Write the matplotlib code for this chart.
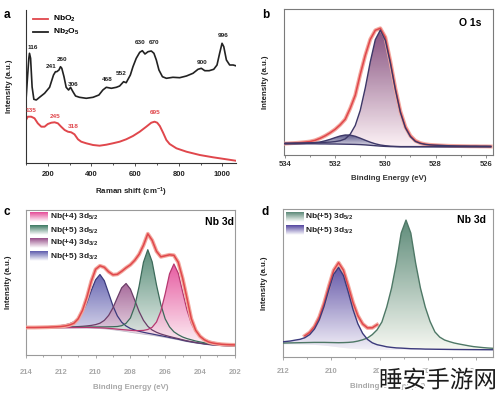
import numpy as np
import matplotlib
matplotlib.use("Agg")
import matplotlib.pyplot as plt
import matplotlib.patheffects as pe
from matplotlib.colors import LinearSegmentedColormap

plt.rcParams['font.family'] = ['Liberation Sans', 'DejaVu Sans']
plt.rcParams['font.weight'] = 'bold'
plt.rcParams['mathtext.default'] = 'regular'

W, H = 499, 397

# ---------------- a: Raman spectra ----------------
nb2o5_shift = [100, 107, 113, 116, 121, 128, 136, 147, 162, 185, 208, 226, 235, 241, 251, 258, 264, 274, 284, 295,
               304, 315, 327, 345, 376, 407, 434, 452, 468, 491, 514, 529, 547, 559, 578, 590, 605, 621, 633, 645,
               659, 674, 686, 697, 709, 725, 743, 773, 804, 835, 865, 888, 903, 919, 939, 960, 975, 987, 998, 1006,
               1018, 1033, 1049, 1060]
nb2o5_int = [63, 86, 104.7, 109.7, 104.7, 76, 63.7, 63, 65.7, 69.7, 75.7, 88, 91.3, 91.3, 93, 96.3, 94.7, 86.3, 75.7, 73,
             75.7, 71.3, 67, 65.7, 64.7, 65.7, 68, 73, 75.7, 74.7, 75.7, 77, 81.3, 80.3, 88, 96.3, 104.7, 110.7, 112.3, 109,
             111.3, 112, 109.7, 103, 93, 86.3, 84.7, 85.7, 85.3, 87, 89.7, 93.7, 94.7, 92.3, 92.3, 93.7, 98, 109.7, 119.7, 116.3,
             103, 98, 98, 97.3]
nbo2_shift = [100, 108, 124, 139, 154, 170, 185, 200, 216, 231, 246, 261, 277, 292, 307, 322, 338, 353, 376, 407,
              437, 468, 498, 529, 559, 590, 621, 651, 674, 689, 701, 713, 728, 743, 758, 789, 835, 896, 957, 1018, 1060]
nbo2_int = [43, 46.3, 46.3, 44.7, 39.7, 36.3, 36.3, 39, 40.3, 40.7, 39.7, 36.3, 33, 31.3, 30.7, 28.7, 23.7, 21.3, 19.7, 18,
            17.3, 18.3, 19.7, 21.3, 23.7, 27, 31.3, 36.3, 40.3, 41.3, 40.3, 37, 30.3, 23, 19, 14.7, 11.3, 8, 5.7, 3.7, 2.3]
nb2o5_peaks = ['116', '241', '260', '306', '468', '552', '630', '670', '900', '996']
nbo2_peaks = ['135', '245', '318', '695']

# ---------------- b: O 1s ----------------
o1s_bg = [11.5] * 7 + [11.4, 11.4, 11.3, 11.3, 11.2, 11.1, 11.0, 10.9, 10.7, 10.4, 10.0, 9.6, 9.2, 8.9, 8.7, 8.6] + [8.5] * 19
o1s_lattice = [0.7, 0.7, 0.8, 0.8, 0.9, 1.0, 1.2, 1.4, 1.6, 1.9, 2.4, 3.4, 5.3, 10.1, 18.9, 34.3, 57.0, 83.5, 106.0, 116.0,
               106.0, 83.5, 57.0, 34.3, 18.9, 10.1, 5.3, 3.4, 2.4, 1.9, 1.6, 1.4, 1.2, 1.0, 0.9, 0.8, 0.8, 0.7, 0.7, 0.6, 0.6, 0.5]
o1s_defect = [0.2, 0.2, 0.2, 0.3, 0.4, 0.7, 1.1, 1.9, 3.1, 4.65, 6.4, 8.1, 9.2, 9.2, 8.1, 6.4, 4.65, 3.1, 1.9, 1.1, 0.7, 0.4, 0.3] + [0.2] * 19
o1s_raw = [11.7, 12.0, 12.3, 12.7, 13.2, 13.8, 15.0, 17.0, 19.5, 22.5, 26.0, 30.5, 36.0, 47.0, 60.0, 81.0, 100.0, 116.0, 125.0, 127.0,
           118.0, 94.0, 67.0, 44.0, 28.5, 19.5, 14.5, 12.2, 11.0, 10.4, 10.1, 9.8, 9.6, 9.4, 9.3, 9.2, 9.1, 9.0, 9.0, 8.9, 8.9, 8.8]

# ---------------- c: Nb 3d (NbO2) ----------------
c_bg = [27.3] * 15 + [27.2, 27.0, 26.8, 26.5, 26.1, 25.6, 25.0, 24.4, 23.8, 23.1, 22.4, 21.8, 21.2, 20.6, 20.0, 19.3, 18.6,
                      17.9, 17.1, 16.3, 15.5, 14.5, 13.6, 12.9, 12.2, 11.6, 11.0, 10.5, 10.1, 9.8, 9.5, 9.3, 9.1, 9.0]
c_nb4_52 = [0.23, 0.24, 0.25, 0.26, 0.27, 0.28, 0.3, 0.31, 0.33, 0.35, 0.37, 0.4, 0.42, 0.46, 0.5, 0.56, 0.62, 0.7, 0.75, 0.86,
            1.0, 1.15, 1.35, 1.6, 1.9, 2.3, 2.9, 3.7, 5.2, 8.0, 14.0, 25.5, 43.6, 64.4, 75.0, 66.6, 49.0, 31.8, 19.1, 11.4,
            7.2, 5.0, 3.7, 3.0, 2.5, 2.0, 1.7, 1.5, 1.3]
c_nb5_52 = [0.3, 0.31, 0.33, 0.35, 0.37, 0.39, 0.41, 0.44, 0.5, 0.56, 0.62, 0.72, 0.82, 0.92, 1.0, 1.1, 1.3, 1.6, 1.9, 2.4,
            3.0, 3.8, 5.2, 8.2, 14.2, 26.6, 47.2, 71.8, 85.0, 73.5, 51.0, 32.0, 18.5, 11.3, 7.2, 5.1, 3.8, 3.1, 2.6, 2.1,
            1.8, 1.5, 1.3, 1.1, 1.0, 0.9, 0.8, 0.7, 0.65]
c_nb4_32 = [0.37, 0.4, 0.43, 0.46, 0.5, 0.56, 0.6, 0.7, 0.8, 0.9, 1.0, 1.2, 1.4, 1.7, 2.1, 2.7, 3.7, 5.3, 8.4, 13.8,
            22.0, 32.7, 43.1, 48.0, 43.1, 32.7, 22.0, 13.8, 8.4, 5.3, 3.7, 2.7, 2.1, 1.7, 1.4, 1.2, 1.0, 0.9, 0.8, 0.7,
            0.6, 0.56, 0.5, 0.46, 0.43, 0.4, 0.37, 0.35, 0.33]
c_nb5_32 = [0.7, 0.75, 0.85, 1.0, 1.15, 1.35, 1.6, 1.95, 2.4, 3.1, 4.2, 6.2, 9.8, 16.0, 25.5, 37.5, 48.5, 54.0, 48.1, 35.9,
            23.7, 14.4, 8.7, 5.5, 3.7, 2.9, 2.2, 1.8, 1.5, 1.3, 1.1, 0.97, 0.85, 0.72, 0.65, 0.6, 0.54, 0.5, 0.44, 0.4,
            0.38, 0.36, 0.34, 0.32, 0.3, 0.29, 0.27, 0.26, 0.25]
c_raw = [27.8, 27.8, 27.8, 27.9, 28.0, 28.1, 28.3, 28.5, 28.8, 29.3, 30.3, 32.0, 36.5, 45.0, 58.0, 74.0, 86.0, 89.5, 88.0, 83.5,
         80.5, 81.0, 84.0, 87.5, 90.5, 95.0, 101.0, 110.0, 121.5, 115.0, 104.0, 98.5, 99.5, 100.5, 100.0, 93.0, 77.0, 57.0, 36.5, 25.0,
         19.0, 15.5, 13.3, 12.2, 11.5, 11.0, 10.7, 10.5, 10.4]

# ---------------- d: Nb 3d (Nb2O5) ----------------
d_bg = [12.5, 12.5, 12.5, 12.4, 12.3, 12.2, 12.0, 11.8, 11.5, 11.1, 10.6, 10.0, 9.4, 8.8, 8.3, 7.9, 7.6, 7.4, 7.2, 7.1,
        6.9, 6.8, 6.7] + [6.6] * 22
d_nb5_52 = [1.1, 1.2, 1.3, 1.5, 1.7, 1.9, 2.2, 2.5, 2.8, 3.2, 3.6, 4.1, 4.6, 5.3, 6.0, 6.8, 8.0, 9.5, 11.5, 15.0,
            20.0, 28.0, 43.0, 62.0, 87.0, 117.0, 130.0, 117.0, 87.0, 62.0, 43.0, 28.6, 18.2, 13.0, 10.1, 8.5, 7.1, 6.1, 5.2, 4.3,
            3.5, 3.0, 2.5, 2.1, 1.8]
d_nb5_32 = [2.2, 2.7, 3.2, 4.2, 5.1, 6.8, 10.1, 15.9, 25.4, 39.3, 56.5, 72.4, 80.0, 72.4, 56.5, 39.3, 25.4, 15.9, 10.1, 6.8,
            5.1, 4.2, 3.2, 2.7, 2.2, 2.0, 1.7, 1.4, 1.3, 1.2, 1.0, 0.95, 0.86, 0.8, 0.74, 0.67, 0.6, 0.56, 0.53, 0.49,
            0.46, 0.43, 0.4, 0.38, 0.36]

o1s_be = 534.0 - 0.2 * np.arange(len(o1s_bg))
c_be = 214.0 - 0.25 * np.arange(len(c_bg))
d_be = 212.1 - 0.2 * np.arange(len(d_bg))

RED = '#e0474c'
HALO = '#f3a89e'
GREY = '#a8a8a8'


def grad_fill(ax, x, lo, hi, c_top, c_bot, alpha=0.9, z=2):
    x, lo, hi = np.asarray(x), np.asarray(lo), np.asarray(hi)
    poly = ax.fill_between(x, lo, hi, facecolor='none', edgecolor='none')
    cmap = LinearSegmentedColormap.from_list('g', [c_bot, c_top])
    grad = np.linspace(0, 1, 256).reshape(-1, 1)
    im = ax.imshow(grad, cmap=cmap, aspect='auto', origin='lower', alpha=alpha, zorder=z,
                   extent=[x.min(), x.max(), lo.min(), hi.max()])
    im.set_clip_path(poly.get_paths()[0], transform=ax.transData)


def grad_patch(fig, px, py, c_top, c_bot, w=18, h=10):
    pa = fig.add_axes([px / W, 1 - (py + h / 2) / H, w / W, h / H])
    cmap = LinearSegmentedColormap.from_list('p', [c_bot, c_top])
    pa.imshow(np.linspace(0, 1, 32).reshape(-1, 1), cmap=cmap, aspect='auto', origin='lower')
    pa.set_axis_off()


def style(ax, spine_col, lab_col, box, pad, major, minor, xlab, xlab_y, ylab_x):
    for s in ['top', 'right']:
        ax.spines[s].set_visible(box)
    for s in ax.spines.values():
        s.set_color(spine_col)
        s.set_linewidth(0.8)
    ax.set_yticks([])
    ax.set_xticks(major)
    ax.set_xticks(minor, minor=True)
    ax.tick_params(axis='x', which='both', direction='out', colors=spine_col, labelcolor=lab_col,
                   labelsize=5.5, length=2.5, width=0.6, pad=pad)
    ax.tick_params(axis='x', which='minor', length=1.6)
    ax.set_xlabel(xlab, fontsize=5.7, fontweight='bold', color=lab_col)
    ax.xaxis.set_label_coords(0.5, xlab_y)
    ax.set_ylabel('Intensity (a.u.)', fontsize=5.7, fontweight='bold', color='#222222')
    ax.yaxis.set_label_coords(ylab_x, 0.5)


fig = plt.figure(figsize=(W / 100, H / 100), dpi=100)


def fig_axes(l, t, r, b):
    return fig.add_axes([l / W, 1 - b / H, (r - l) / W, (b - t) / H])


ax_a = fig_axes(26, 10, 236, 163)
ax_b = fig_axes(284, 9, 492.7, 155.3)
ax_c = fig_axes(26, 210, 234.8, 355.3)
ax_d = fig_axes(282.7, 209.3, 492.7, 356.7)

# ---- panel a ----
ax_a.plot(nb2o5_shift, nb2o5_int, color='#222222', lw=1.2)
ax_a.plot(nbo2_shift, nbo2_int, color=RED, lw=1.4)
a_lab_pos = [(130, 115), (217, 96), (267, 103), (318, 79), (474, 83), (538, 89), (625, 120), (685, 120), (905, 100), (1001, 127)]
for s, (x, y) in zip(nb2o5_peaks, a_lab_pos):
    ax_a.text(x, y, s, fontsize=4.6, ha='center', va='center', color='#222222')
a_red_pos = [(125, 52), (235, 46), (318, 36), (690, 50)]
for s, (x, y) in zip(nbo2_peaks, a_red_pos):
    ax_a.text(x, y, s, fontsize=4.6, ha='center', va='center', color=RED)
ax_a.plot([0.033, 0.105], [0.941, 0.941], transform=ax_a.transAxes, color=RED, lw=1.3)
ax_a.plot([0.033, 0.105], [0.856, 0.856], transform=ax_a.transAxes, color='#222222', lw=1.3)
ax_a.text(0.128, 0.941, 'NbO$_2$', transform=ax_a.transAxes, fontsize=6, va='center')
ax_a.text(0.128, 0.856, 'Nb$_2$O$_5$', transform=ax_a.transAxes, fontsize=6, va='center')
ax_a.set_xlim(100, 1062)
ax_a.set_ylim(0, 153)
style(ax_a, '#333333', '#222222', False, 3.0, [200, 400, 600, 800, 1000], [100, 300, 500, 700, 900],
      'Raman shift (cm$^{-1}$)', -0.15, -0.06)

# ---- panel b ----
b_bg = np.array(o1s_bg)
b_lat = b_bg + np.array(o1s_lattice)
b_def = b_bg + np.array(o1s_defect)
grad_fill(ax_b, o1s_be, b_bg, b_lat, '#7a3f72', '#fdf1f5')
grad_fill(ax_b, o1s_be, b_bg, b_def, '#4b4a80', '#ebe9f2')
ax_b.plot(o1s_be, o1s_raw, color=HALO, lw=2.8, zorder=3)
ax_b.plot(o1s_be, o1s_raw, color=RED, lw=1.1, zorder=3)
ax_b.plot(o1s_be, b_lat, color='#3d3868', lw=1.0, zorder=4)
ax_b.plot(o1s_be, b_def, color='#3d3868', lw=1.0, zorder=4)
ax_b.plot(o1s_be, b_bg, color='#3d3868', lw=1.0, zorder=4)
ax_b.text(0.891, 0.904, 'O 1s', transform=ax_b.transAxes, fontsize=7.5, ha='center', va='center')
ax_b.set_xlim(534.04, 525.72)
ax_b.set_ylim(0, 146.3)
style(ax_b, '#7a7a7a', '#333333', True, 1.6, [534, 532, 530, 528, 526], [533, 531, 529, 527],
      'Binding Energy (eV)', -0.135, -0.074)

# ---- panel c ----
cb = np.array(c_bg)
c_comps = [
    (c_nb5_32, '#4f4da5', '#efeef8', '#3b3a7c'),
    (c_nb4_32, '#98518a', '#f7eef3', '#6b3d68'),
    (c_nb5_52, '#3e7a63', '#f1f6f2', '#3c6a5a'),
    (c_nb4_52, '#e23d8f', '#fdf1f6', '#b63870'),
]
for vals, ct, cbot, cl in c_comps:
    top = cb + np.array(vals)
    grad_fill(ax_c, c_be, cb, top, ct, cbot, alpha=0.85)
    ax_c.plot(c_be, top, color=cl, lw=0.9, zorder=4)
ax_c.plot(c_be, cb, color='#c9c3d0', lw=0.7, zorder=3)
ax_c.plot(c_be, c_raw, color=HALO, lw=2.8, zorder=5)
ax_c.plot(c_be, c_raw, color=RED, lw=1.1, zorder=5)
ax_c.text(0.929, 0.917, 'Nb 3d', transform=ax_c.transAxes, fontsize=7.5, ha='center', va='center')
ax_c.set_xlim(214, 202)
ax_c.set_ylim(0, 145.3)
style(ax_c, '#9a9a9a', GREY, True, 7.3, [214, 212, 210, 208, 206, 204, 202], [213, 211, 209, 207, 205, 203],
      'Binding Energy (eV)', -0.198, -0.069)
c_leg = [('Nb(+4) 3d$_{5/2}$', '#e23d8f'), ('Nb(+5) 3d$_{5/2}$', '#3e7a63'),
         ('Nb(+4) 3d$_{3/2}$', '#98518a'), ('Nb(+5) 3d$_{3/2}$', '#4f4da5')]
for k, (lab, col) in enumerate(c_leg):
    py = 217 + 13 * k
    grad_patch(fig, 30, py, col, '#ffffff')
    fig.text(50 / W, 1 - py / H, lab, fontsize=6, va='center', color='#222222')

# ---- panel d ----
db = np.array(d_bg)
d_top52 = db + np.array(d_nb5_52)
d_top32 = db + np.array(d_nb5_32)
grad_fill(ax_d, d_be, db, d_top52, '#4d7f6b', '#f6f8f1', alpha=0.9)
grad_fill(ax_d, d_be, db, d_top32, '#5547a0', '#f2eff8', alpha=0.9)
d_env = db + np.array(d_nb5_52) + np.array(d_nb5_32)
ax_d.plot(d_be[5:21], d_env[5:21], color=HALO, lw=2.8, zorder=3)
ax_d.plot(d_be[5:21], d_env[5:21], color=RED, lw=1.1, zorder=3)
ax_d.plot(d_be, d_top52, color='#4e7866', lw=1.0, zorder=4)
ax_d.plot(d_be, d_top32, color='#3b3a7c', lw=1.0, zorder=4)
ax_d.text(0.901, 0.927, 'Nb 3d', transform=ax_d.transAxes, fontsize=7.5, ha='center', va='center')
ax_d.set_xlim(212.02, 203.3)
ax_d.set_ylim(0, 147.4)
style(ax_d, '#9a9a9a', GREY, True, 5.6, [212, 210, 208, 206, 204], [211, 209, 207, 205],
      'Binding Energy (eV)', -0.178, -0.068)
d_leg = [('Nb(+5) 3d$_{5/2}$', '#4d7f6b'), ('Nb(+5) 3d$_{3/2}$', '#5547a0')]
for k, (lab, col) in enumerate(d_leg):
    py = 217 + 13 * k
    grad_patch(fig, 286, py, col, '#ffffff')
    fig.text(305 / W, 1 - py / H, lab, fontsize=6, va='center', color='#222222')

# panel letters
for lab, (px, py) in zip('abcd', [(4, 15), (262, 15), (4, 212), (262, 212)]):
    fig.text(px / W, 1 - py / H, lab, fontsize=8.5, fontweight='bold', va='center', ha='left')

fig.text(438 / W, 1 - 381 / H, '睡安手游网', fontsize=17, family=['Noto Sans CJK SC', 'DejaVu Sans'],
         fontweight='normal', color='#1c1c1c', ha='center', va='center',
         path_effects=[pe.withStroke(linewidth=2.5, foreground='white')])

fig.savefig('out.png', dpi=100)
